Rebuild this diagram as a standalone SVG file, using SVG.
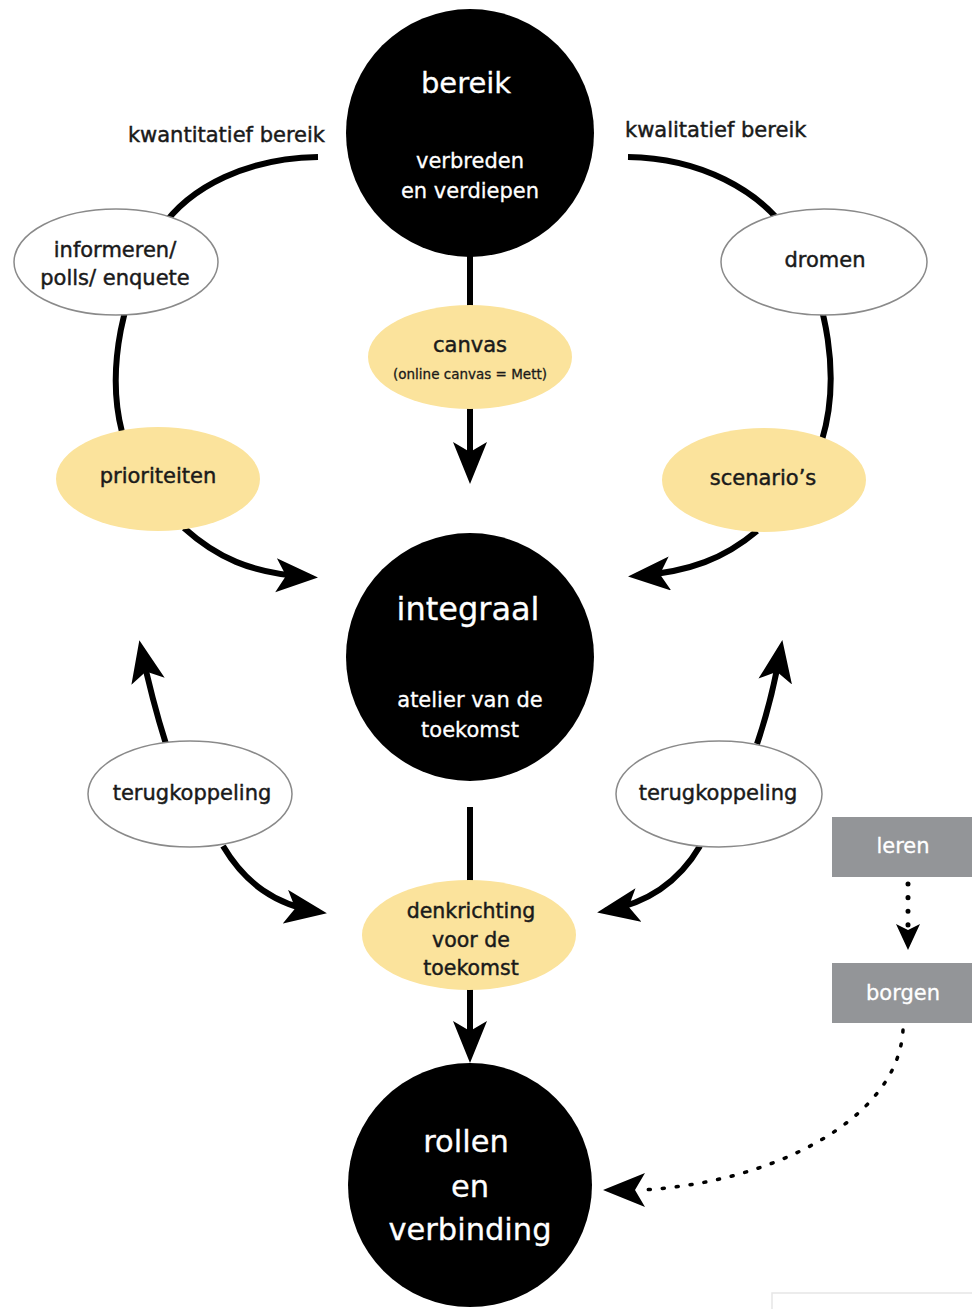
<svg xmlns="http://www.w3.org/2000/svg" width="972" height="1309" viewBox="0 0 972 1309">
<defs>
<style>
text{font-family:"DejaVu Sans","Liberation Sans",sans-serif;text-anchor:middle}
.w{fill:#ffffff;stroke:#ffffff;stroke-width:0.3}
.d{fill:#1a1a1a;stroke:#1a1a1a;stroke-width:0.45}
.el{fill:#ffffff;stroke:#8a8a8a;stroke-width:1.5}
.ye{fill:#fbe39c}
.bk{fill:#000000}
.gr{fill:#939598}
.ln{fill:none;stroke:#000;stroke-width:6}
.dt{fill:none;stroke:#000;stroke-width:3.5;stroke-dasharray:2 12;stroke-linecap:round}
</style>
<marker id="ah" markerUnits="userSpaceOnUse" markerWidth="44" markerHeight="36" refX="34" refY="17" orient="auto">
<path d="M0,0 L42,17 L0,34 L10,17 Z" fill="#000"/>
</marker>
<marker id="ahs" markerUnits="userSpaceOnUse" markerWidth="26" markerHeight="26" refX="18" refY="12" orient="auto">
<path d="M0,0 L26,12 L0,24 L6,12 Z" fill="#000"/>
</marker>
</defs>
<rect x="0" y="0" width="972" height="1309" fill="#ffffff"/>

<g id="connectors">
<path class="ln" d="M318,157 C250,158 190,185 160,230 C122,290 106,370 122,432"/>
<path class="ln" d="M628,157 C700,158 760,190 790,235 C830,300 840,380 822,440"/>
<path class="ln" d="M470,255 L470,310"/>
<path class="ln" d="M470,405 L470,476" marker-end="url(#ah)"/>
<path class="ln" d="M184,528 C215,556 250,574 310,577" marker-end="url(#ah)"/>
<path class="ln" d="M757,531 C725,558 690,572 636,576" marker-end="url(#ah)"/>
<path class="ln" d="M166,744 Q152,700 141,648" marker-end="url(#ah)"/>
<path class="ln" d="M223,846 C245,883 275,905 319,912" marker-end="url(#ah)"/>
<path class="ln" d="M757,744 Q772,700 781,648" marker-end="url(#ah)"/>
<path class="ln" d="M700,846 C680,880 650,903 605,911" marker-end="url(#ah)"/>
<path class="ln" d="M470,807 L470,884"/>
<path class="ln" d="M470,986 L470,1055" marker-end="url(#ah)"/>
<path d="M908,884 L908,930" fill="none" stroke="#000" stroke-width="5" stroke-dasharray="0.1 13.5" stroke-linecap="round"/>
<path d="M908,930 L908,942" fill="none" stroke="#000" stroke-width="3" marker-end="url(#ahs)"/>
<path class="dt" d="M903,1030 C898,1120 770,1184 640,1190"/>
<path d="M617,1190 L611,1190" fill="none" stroke="#000" stroke-width="2" marker-end="url(#ah)"/>
</g>

<g id="kwantitatief">
<text class="d" x="325" y="142" font-size="21" style="text-anchor:end">kwantitatief bereik</text>
</g>
<g id="kwalitatief">
<text class="d" x="625" y="137" font-size="21" style="text-anchor:start">kwalitatief bereik</text>
</g>

<g id="bereik">
<circle class="bk" cx="470" cy="133" r="124"/>
<text class="w" x="466" y="93" font-size="29">bereik</text>
<text class="w" x="470" y="168" font-size="21">verbreden</text>
<text class="w" x="470" y="198" font-size="21">en verdiepen</text>
</g>

<g id="informeren">
<ellipse class="el" cx="116" cy="262" rx="102" ry="53"/>
<text class="d" x="115" y="257" font-size="21">informeren/</text>
<text class="d" x="115" y="285" font-size="21">polls/ enquete</text>
</g>

<g id="dromen">
<ellipse class="el" cx="824" cy="262" rx="103" ry="53"/>
<text class="d" x="825" y="267" font-size="21">dromen</text>
</g>

<g id="canvas">
<ellipse class="ye" cx="470" cy="357" rx="102" ry="52"/>
<text class="d" x="470" y="352" font-size="21">canvas</text>
<text class="d" x="470" y="379" font-size="13.5" style="stroke-width:0.3">(online canvas = Mett)</text>
</g>

<g id="prioriteiten">
<ellipse class="ye" cx="158" cy="479" rx="102" ry="52"/>
<text class="d" x="158" y="483" font-size="21">prioriteiten</text>
</g>

<g id="scenarios">
<ellipse class="ye" cx="764" cy="480" rx="102" ry="52"/>
<text class="d" x="763" y="485" font-size="21">scenario’s</text>
</g>

<g id="integraal">
<circle class="bk" cx="470" cy="657" r="124"/>
<text class="w" x="468" y="620" font-size="32">integraal</text>
<text class="w" x="470" y="707" font-size="21">atelier van de</text>
<text class="w" x="470" y="737" font-size="21">toekomst</text>
</g>

<g id="terugkoppeling-links">
<ellipse class="el" cx="190" cy="794" rx="102" ry="53"/>
<text class="d" x="192" y="800" font-size="21">terugkoppeling</text>
</g>

<g id="terugkoppeling-rechts">
<ellipse class="el" cx="719" cy="794" rx="103" ry="53"/>
<text class="d" x="718" y="800" font-size="21">terugkoppeling</text>
</g>

<g id="denkrichting">
<ellipse class="ye" cx="469" cy="935" rx="107" ry="55"/>
<text class="d" x="471" y="918" font-size="20.5">denkrichting</text>
<text class="d" x="471" y="947" font-size="20.5">voor de</text>
<text class="d" x="471" y="975" font-size="20.5">toekomst</text>
</g>

<g id="rollen">
<circle class="bk" cx="470" cy="1185" r="122"/>
<text class="w" x="466" y="1152" font-size="30.5">rollen</text>
<text class="w" x="470" y="1197" font-size="30.5">en</text>
<text class="w" x="470" y="1240" font-size="30.5">verbinding</text>
</g>

<g id="leren">
<rect class="gr" x="832" y="817" width="140" height="60"/>
<text class="w" x="903" y="853" font-size="21">leren</text>
</g>

<g id="borgen">
<rect class="gr" x="832" y="963" width="140" height="60"/>
<text class="w" x="903" y="1000" font-size="21">borgen</text>
</g>

<path d="M772,1309 L772,1293 L972,1293" fill="none" stroke="#e6e6e6" stroke-width="1.5"/>
</svg>
